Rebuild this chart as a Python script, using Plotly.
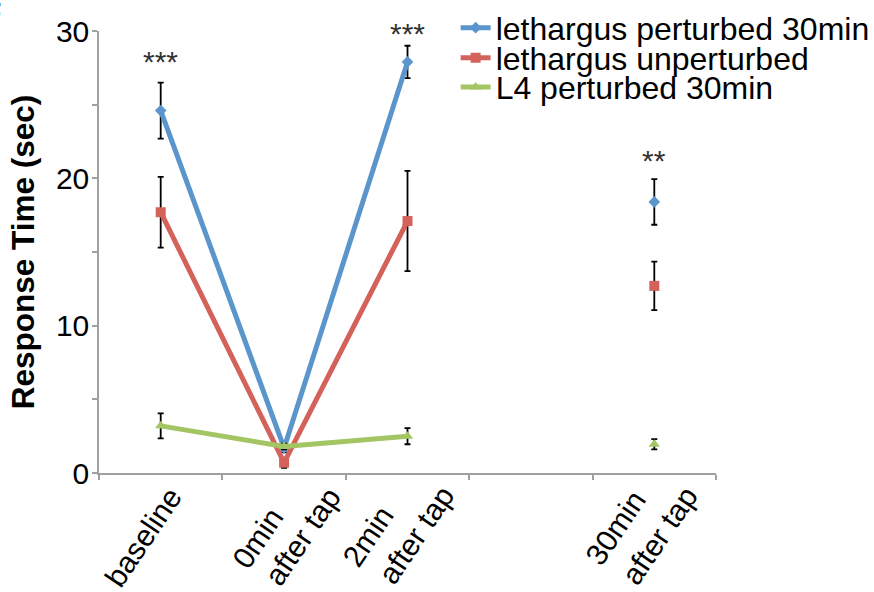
import plotly.graph_objects as go

# Time points (the blank slot leaves a gap between 2 min and 30 min)
categories = ["baseline", "0min after tap", "2min after tap", " ", "30min after tap"]
label_lines = [["baseline"], ["0min", "after tap"], ["2min", "after tap"], [], ["30min", "after tap"]]

series_names = ["lethargus perturbed 30min", "lethargus unperturbed", "L4 perturbed 30min"]

# Mean response time (sec)
perturbed_mean = [24.6, 1.7, 27.9, None, 18.4]
unperturbed_mean = [17.7, 0.7, 17.1, None, 12.7]
l4_mean = [3.2, 1.8, 2.5, None, 1.95]

# Error (sec)
perturbed_err = [1.9, 0.3, 1.1, None, 1.55]
unperturbed_err = [2.4, 0.35, 3.4, None, 1.65]
l4_err = [0.85, 0.2, 0.55, None, 0.35]

# Significance marks
sig_categories = ["baseline", "2min after tap", "30min after tap"]
sig_labels = ["***", "***", "**"]

colors = ["#5A95CC", "#D4625A", "#A3C563"]
symbols = ["diamond", "square", "triangle-up"]
marker_sizes = [9, 10, 10]

FONT = "Helvetica, Arial, 'Liberation Sans', sans-serif"

# plot-area geometry in pixels (used to place the rotated category labels)
FIG_W, FIG_H = 874, 592
M_L, M_R, M_T, M_B = 99, 158, 31, 119
PLOT_H = FIG_H - M_T - M_B
AXIS_Y = FIG_H - M_B

fig = go.Figure()

means = [perturbed_mean, unperturbed_mean, l4_mean]
errs = [perturbed_err, unperturbed_err, l4_err]
legend_ids = ["legend", "legend2", "legend3"]

for name, m, e, c, s, ms, lg in zip(series_names, means, errs, colors, symbols, marker_sizes, legend_ids):
    fig.add_trace(go.Scatter(
        x=categories, y=m, name=name, mode="lines+markers",
        line=dict(color=c, width=5),
        marker=dict(symbol=s, size=ms, color=c),
        error_y=dict(type="data", array=e, visible=True, color="black", thickness=1.8, width=3),
        connectgaps=False, cliponaxis=False, legend=lg,
    ))

annotations = []

# Significance annotations
sig_y = [27.7, 29.6, 21.0]
for cat, lab, yv in zip(sig_categories, sig_labels, sig_y):
    annotations.append(dict(x=cat, y=yv, xref="x", yref="y", text=lab, showarrow=False,
                            yshift=3, font=dict(family=FONT, size=30, color="#333333"),
                            xanchor="center", yanchor="middle"))

# Rotated category labels, one annotation per line (left-justified block)
# (x offset from the category centre, pixel y of the line centre)
line_offsets = [
    [(-18, 537)],
    [(-27, 538), (18, 536)],
    [(-40, 536), (8, 535)],
    [],
    [(-39, 527), (5, 535)],
]
for cat, lines, offs in zip(categories, label_lines, line_offsets):
    for txt, (dx, py) in zip(lines, offs):
        annotations.append(dict(x=cat, y=(AXIS_Y - py) / PLOT_H, xref="x", yref="paper", text=txt,
                                showarrow=False, textangle=-56, xanchor="center", yanchor="middle",
                                xshift=dx, font=dict(family=FONT, size=30, color="black")))

# panel letter at the top-left edge
annotations.append(dict(x=-0.1556, y=1.083, xref="paper", yref="paper", text="<b>F</b>",
                        showarrow=False, xanchor="right", yanchor="top",
                        font=dict(family=FONT, size=30, color="black")))

legend_rows = [1.007, 0.939, 0.873]
legend_layouts = {}
for lg, yrow in zip(legend_ids, legend_rows):
    legend_layouts[lg] = dict(x=0.578, y=yrow, xanchor="left", yanchor="middle",
                              bgcolor="rgba(0,0,0,0)", borderwidth=0,
                              font=dict(family=FONT, size=32, color="black"),
                              itemwidth=30)

fig.update_layout(
    width=FIG_W, height=FIG_H,
    margin=dict(l=M_L, r=M_R, t=M_T, b=M_B, autoexpand=False),
    paper_bgcolor="white", plot_bgcolor="white",
    font=dict(family=FONT, size=30, color="black"),
    showlegend=True,
    annotations=annotations,
    xaxis=dict(
        type="category", categoryorder="array", categoryarray=categories,
        range=[-0.5, 4.5], tickson="boundaries", automargin=False,
        ticks="outside", ticklen=5, tickcolor="#A0A0A0", tickwidth=1.5,
        showline=True, linecolor="#A0A0A0", linewidth=1.5,
        showgrid=False, zeroline=False, showticklabels=False,
    ),
    yaxis=dict(
        range=[0, 30], tickvals=[0, 10, 20, 30], automargin=False,
        ticks="outside", ticklen=5, tickcolor="#A0A0A0", tickwidth=1.5,
        minor=dict(tickvals=[5, 15, 25], ticks="outside", ticklen=5, tickcolor="#A0A0A0", tickwidth=1.5),
        showline=True, linecolor="#A0A0A0", linewidth=1.5,
        showgrid=False, zeroline=False, ticklabelstandoff=-3,
        tickfont=dict(family=FONT, size=30, color="black"),
        title=dict(text="<b>Response Time (sec)</b>", font=dict(family=FONT, size=31.5, color="black"), standoff=12),
    ),
    **legend_layouts,
)

fig.write_html("out.html")
